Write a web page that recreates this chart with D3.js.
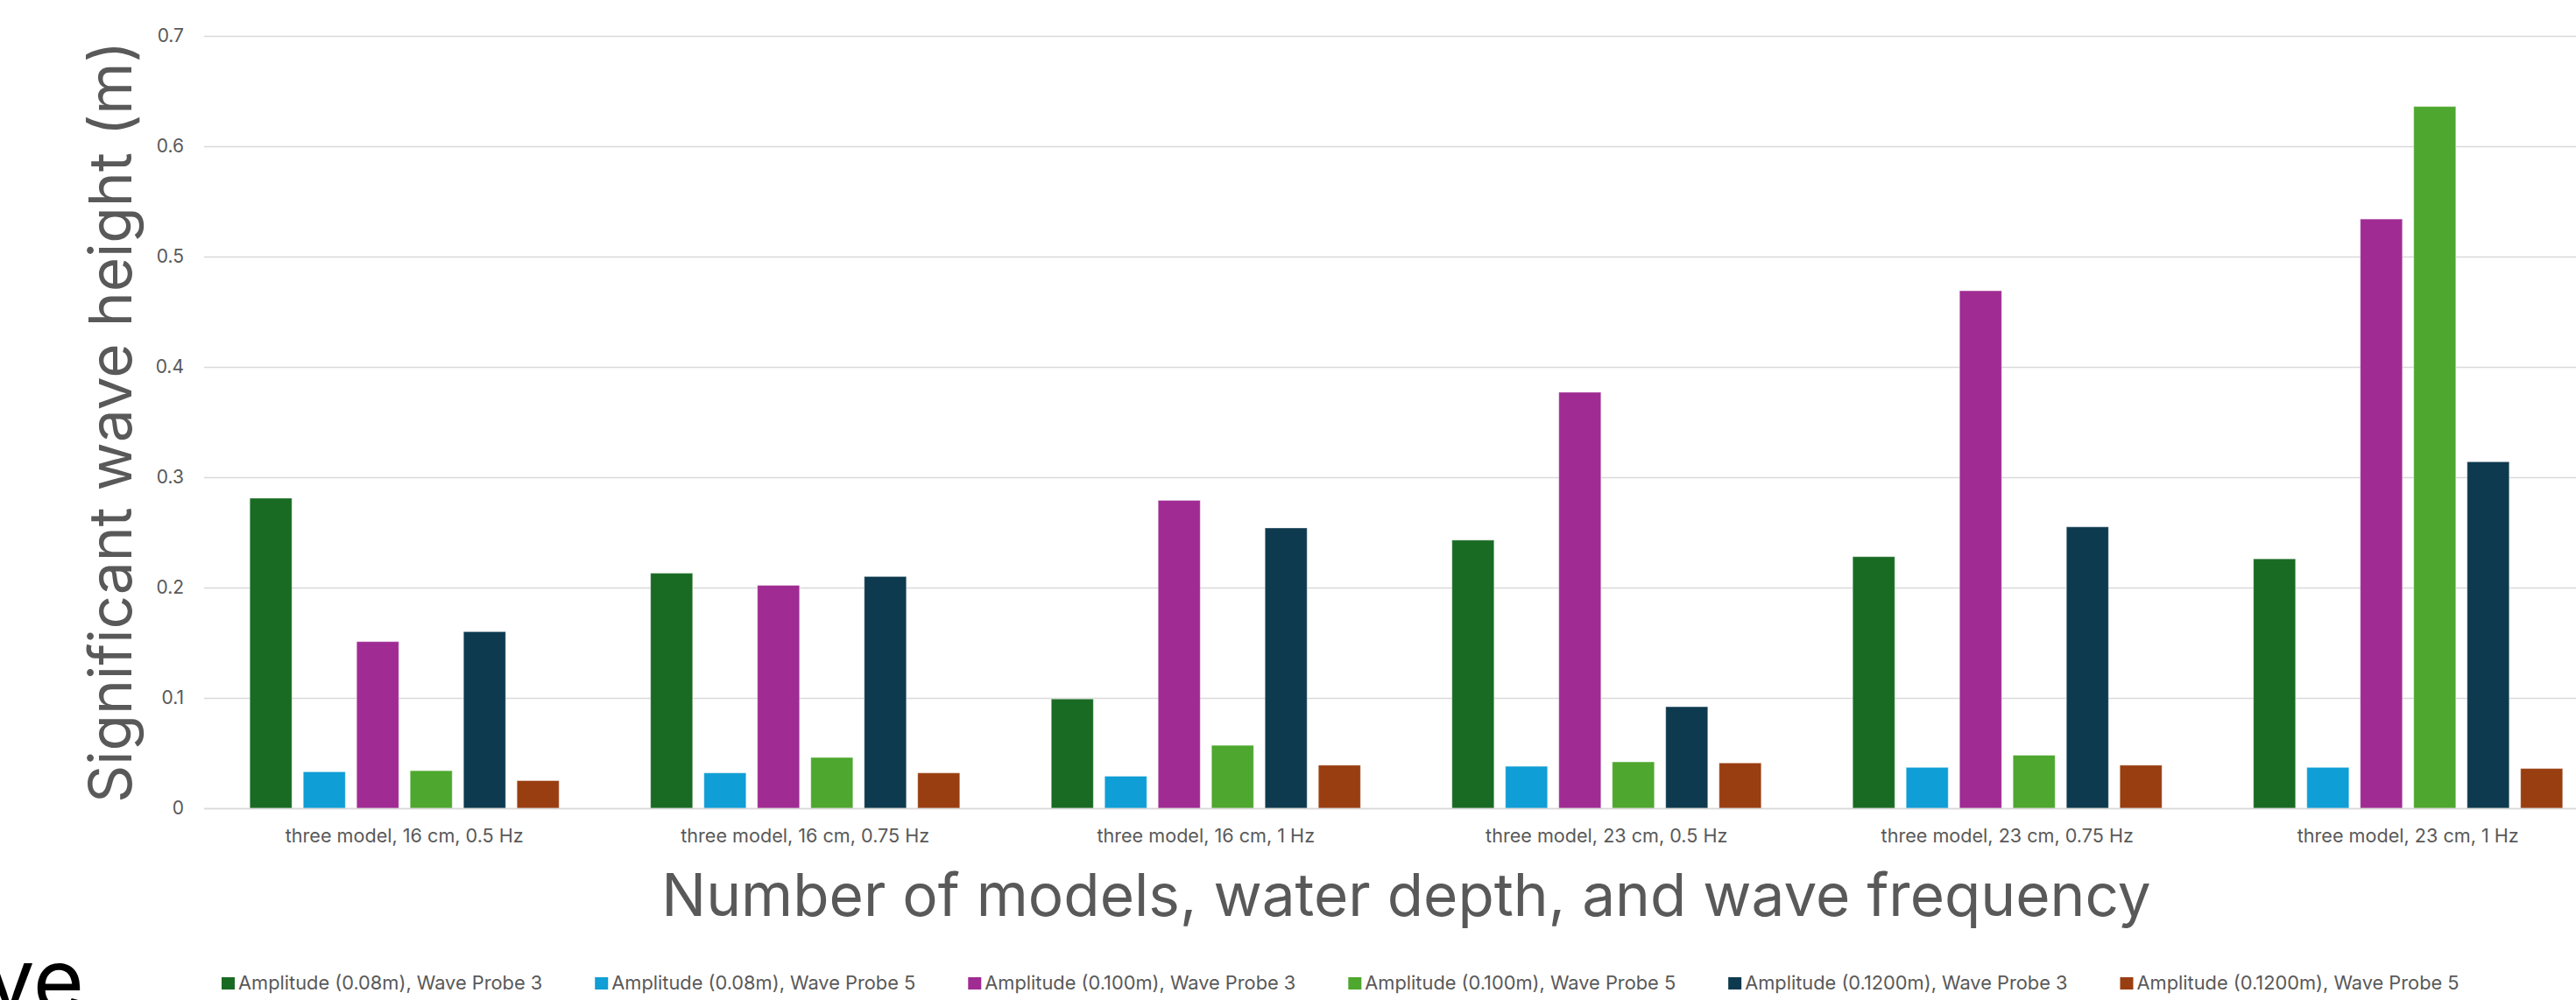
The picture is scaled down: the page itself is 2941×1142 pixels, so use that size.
<!DOCTYPE html>
<html>
<head>
<meta charset="utf-8">
<script src="https://cdn.jsdelivr.net/npm/d3@7"></script>
<style>
  html, body { margin: 0; padding: 0; background: #fff; }
  svg { display: block; }
  text { font-family: Inter, "Open Sans", sans-serif; fill: #595959; }
</style>
</head>
<body>
<svg id="chart" width="2941" height="1142"></svg>
<script>
// Test conditions: number of models, water depth, wave frequency
const categories = [
  "three model, 16 cm, 0.5 Hz",
  "three model, 16 cm, 0.75 Hz",
  "three model, 16 cm, 1 Hz",
  "three model, 23 cm, 0.5 Hz",
  "three model, 23 cm, 0.75 Hz",
  "three model, 23 cm, 1 Hz"
];

const seriesNames = [
  "Amplitude (0.08m), Wave Probe 3",
  "Amplitude (0.08m), Wave Probe 5",
  "Amplitude (0.100m), Wave Probe 3",
  "Amplitude (0.100m), Wave Probe 5",
  "Amplitude (0.1200m), Wave Probe 3",
  "Amplitude (0.1200m), Wave Probe 5"
];

// Significant wave height (m) per series, one value per test condition
const amp008probe3  = [0.281, 0.213, 0.099, 0.243, 0.228, 0.226];
const amp008probe5  = [0.033, 0.032, 0.029, 0.038, 0.037, 0.037];
const amp0100probe3 = [0.151, 0.202, 0.279, 0.377, 0.469, 0.534];
const amp0100probe5 = [0.034, 0.046, 0.057, 0.042, 0.048, 0.636];
const amp012probe3  = [0.160, 0.210, 0.254, 0.092, 0.255, 0.314];
const amp012probe5  = [0.025, 0.032, 0.039, 0.041, 0.039, 0.036];

const seriesValues = [amp008probe3, amp008probe5, amp0100probe3, amp0100probe5, amp012probe3, amp012probe5];
const seriesColors = ["#196B24", "#0F9ED5", "#A02B93", "#4EA72E", "#0E3A4F", "#993E11"];

const yTicks = [0, 0.1, 0.2, 0.3, 0.4, 0.5, 0.6, 0.7];
const yTickLabels = ["0", "0.1", "0.2", "0.3", "0.4", "0.5", "0.6", "0.7"];

const svg = d3.select("#chart");
const W = 2941, H = 1142;
svg.append("rect").attr("width", W).attr("height", H).attr("fill", "#fff");

const plot = { left: 233, right: 2978, top: 41, bottom: 923 };

const y = d3.scaleLinear().domain([0, 0.7]).range([plot.bottom, plot.top]);

const x0 = d3.scaleBand()
  .domain(categories)
  .range([plot.left, plot.right])
  .paddingInner(0.2284)
  .paddingOuter(0.1142);

const x1 = d3.scaleBand()
  .domain(seriesNames)
  .range([0, x0.bandwidth()])
  .paddingInner(0.2131)
  .paddingOuter(0);

// Gridlines and value labels
const yAxis = d3.axisLeft(y)
  .tickValues(yTicks)
  .tickFormat((d, i) => yTickLabels[i])
  .tickSizeInner(-(plot.right - plot.left))
  .tickSizeOuter(0)
  .tickPadding(23);

const gy = svg.append("g")
  .attr("transform", `translate(${plot.left},0)`)
  .call(yAxis);
gy.select(".domain").remove();
gy.selectAll(".tick line").attr("stroke", "#D9D9D9").attr("stroke-width", 1.6);
gy.selectAll(".tick text")
  .attr("font-family", "Inter, sans-serif")
  .attr("font-size", 21)
  .attr("fill", "#595959");

// Bars
const groups = svg.append("g")
  .selectAll("g")
  .data(categories)
  .join("g")
  .attr("transform", d => `translate(${x0(d)},0)`);

groups.selectAll("rect")
  .data((cat, ci) => seriesNames.map((s, si) => ({ series: s, si, value: seriesValues[si][ci] })))
  .join("rect")
  .attr("x", d => x1(d.series))
  .attr("y", d => y(d.value))
  .attr("width", x1.bandwidth())
  .attr("height", d => y(0) - y(d.value))
  .attr("fill", d => seriesColors[d.si])
  .attr("stroke", "#ffffff")
  .attr("stroke-opacity", 0.35)
  .attr("stroke-width", 1);

// Category axis
const xAxis = d3.axisBottom(x0).tickSize(0).tickSizeOuter(0).tickPadding(24);
const gx = svg.append("g")
  .attr("transform", `translate(0,${plot.bottom})`)
  .call(xAxis);
gx.select(".domain").attr("stroke", "#D9D9D9").attr("stroke-width", 1.6);
gx.selectAll(".tick text")
  .attr("font-family", "Inter, sans-serif")
  .attr("font-size", 21.6)
  .attr("fill", "#595959");

// Axis titles
svg.append("text")
  .attr("transform", `translate(150,${(plot.top + plot.bottom) / 2}) rotate(-90)`)
  .attr("text-anchor", "middle")
  .attr("font-size", 67.5)
  .text("Significant wave height (m)");

svg.append("text")
  .attr("x", (plot.left + plot.right) / 2)
  .attr("y", 1046)
  .attr("text-anchor", "middle")
  .attr("font-size", 67.5)
  .text("Number of models, water depth, and wave frequency");

// Legend
const legend = svg.append("g");
let lx = 253;
seriesNames.forEach((name, i) => {
  const item = legend.append("g").attr("transform", `translate(${lx},0)`);
  item.append("rect")
    .attr("x", 0).attr("y", 1116)
    .attr("width", 15).attr("height", 14)
    .attr("fill", seriesColors[i]);
  const t = item.append("text")
    .attr("x", 19).attr("y", 1130)
    .attr("font-size", 21.8)
    .text(name);
  lx += 19 + t.node().getComputedTextLength() + 60;
});

// Fragment of neighbouring heading text at the lower-left edge
svg.append("text")
  .attr("x", 96)
  .attr("y", 1155)
  .attr("text-anchor", "end")
  .attr("font-family", "'Liberation Sans', Arial, sans-serif")
  .attr("font-size", 100)
  .style("fill", "#000")
  .text("ve");
</script>
</body>
</html>
